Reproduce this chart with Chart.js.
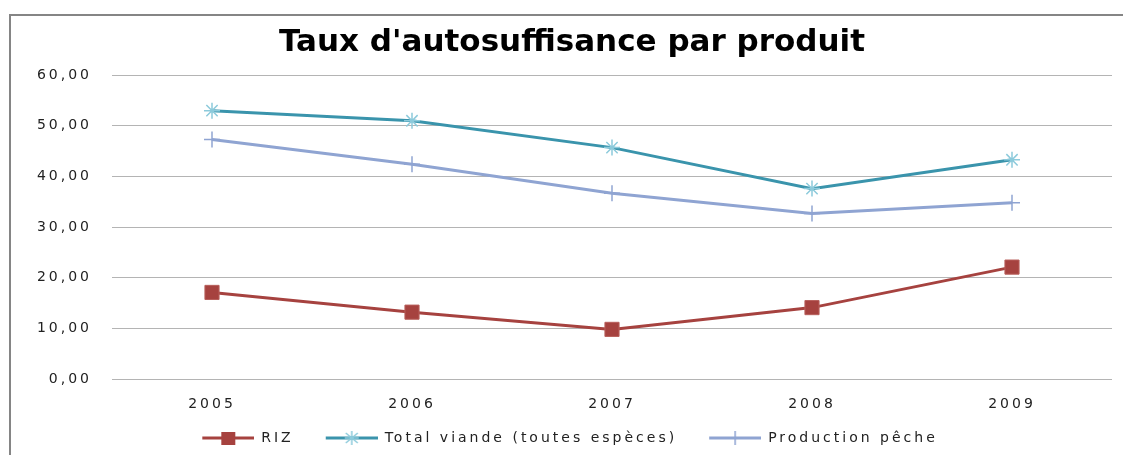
<!DOCTYPE html>
<html>
<head>
<meta charset="utf-8">
<script src="https://cdn.jsdelivr.net/npm/chart.js@4"></script>
<style>
  html, body { margin: 0; padding: 0; background: #fff; }
  #wrap { width: 1123px; height: 455px; position: relative; }
</style>
</head>
<body>
<div id="wrap"><canvas id="autoChart"></canvas></div>
<script>
const years = ['2005', '2006', '2007', '2008', '2009'];
const riz = [17.1, 13.2, 9.8, 14.1, 22.1];
const viande = [53.0, 51.0, 45.7, 37.6, 43.3];
const peche = [47.3, 42.4, 36.7, 32.7, 34.8];
const yTickLabels = ['0,00', '10,00', '20,00', '30,00', '40,00', '50,00', '60,00'];

// legend picture: blank gap on the left, then a line with the marker in its middle
function legendSymbol(lineColor, markColor, style) {
    const c = document.createElement('canvas');
    c.width = 80;
    c.height = 16;
    const g = c.getContext('2d');
    g.strokeStyle = lineColor;
    g.lineWidth = 3;
    g.beginPath();
    g.moveTo(28, 8);
    g.lineTo(80, 8);
    g.stroke();
    const cx = 54;
    if (style === 'rect') {
        g.fillStyle = markColor;
        g.fillRect(cx - 7, 2, 14, 13);
    } else {
        g.strokeStyle = markColor;
        g.lineWidth = 1.5;
        g.beginPath();
        g.moveTo(cx, 1); g.lineTo(cx, 15);
        g.moveTo(cx - 7, 8); g.lineTo(cx + 7, 8);
        if (style === 'star') {
            g.moveTo(cx - 6, 3); g.lineTo(cx + 6, 13);
            g.moveTo(cx - 6, 13); g.lineTo(cx + 6, 3);
        }
        g.stroke();
    }
    return c;
}

const frame = {
    id: 'frame',
    beforeLayout(chart) {
        chart.ctx.letterSpacing = '3px';
    },
    beforeDraw(chart) {
        const ctx = chart.ctx;
        ctx.letterSpacing = '3px';
        ctx.save();
        ctx.strokeStyle = '#858585';
        ctx.lineWidth = 2;
        ctx.strokeRect(10, 15, 1200, 500);
        ctx.restore();
    },
    afterInit(chart) {
        const tb = chart.titleBlock;
        if (!tb) return;
        const orig = tb.draw.bind(tb);
        tb.draw = function(area) {
            const c = chart.ctx;
            const prev = c.letterSpacing;
            c.letterSpacing = '0px';
            c.save();
            c.translate(16, 0);
            orig(area);
            c.restore();
            c.letterSpacing = prev;
        };
    }
};

const symbols = [
    legendSymbol('#A6423F', '#A6423F', 'rect'),
    legendSymbol('#3A94AC', '#8CCADB', 'star'),
    legendSymbol('#8FA4D2', '#8FA4D2', 'cross')
];

const ctx = document.getElementById('autoChart').getContext('2d');
new Chart(ctx, {
    type: 'line',
    data: {
        labels: years,
        datasets: [{
            label: 'RIZ',
            data: riz,
            borderColor: '#A6423F',
            backgroundColor: '#A6423F',
            borderWidth: 3,
            pointStyle: 'rect',
            pointRadius: 10,
            pointBorderWidth: 1,
            pointBorderColor: '#B8605C',
            tension: 0
        }, {
            label: 'Total viande (toutes espèces)',
            data: viande,
            borderColor: '#3A94AC',
            backgroundColor: '#3A94AC',
            borderWidth: 3,
            pointStyle: 'star',
            pointRadius: 8,
            pointBorderWidth: 1.5,
            pointBorderColor: '#8CCADB',
            tension: 0
        }, {
            label: 'Production pêche',
            data: peche,
            borderColor: '#8FA4D2',
            backgroundColor: '#8FA4D2',
            borderWidth: 3,
            pointStyle: 'cross',
            pointRadius: 8,
            pointBorderWidth: 1.5,
            pointBorderColor: '#8FA4D2',
            tension: 0
        }]
    },
    options: {
        responsive: true,
        maintainAspectRatio: false,
        animation: false,
        layout: {
            padding: {left: 0, right: 11, top: 0, bottom: 0}
        },
        plugins: {
            title: {
                display: true,
                text: "Taux d'autosuffisance par produit",
                color: '#000',
                font: {family: 'DejaVu Sans', size: 31, weight: 'bold'},
                padding: {top: 24, bottom: 14}
            },
            legend: {
                position: 'bottom',
                labels: {
                    usePointStyle: true,
                    pointStyleWidth: 80,
                    padding: 4,
                    color: '#222',
                    font: {family: 'DejaVu Sans', size: 14},
                    generateLabels(chart) {
                        const items = Chart.defaults.plugins.legend.labels.generateLabels(chart);
                        items.forEach(function(it, i) { it.pointStyle = symbols[i]; });
                        return items;
                    }
                }
            },
            tooltip: {enabled: false}
        },
        scales: {
            x: {
                offset: true,
                grid: {display: false},
                border: {display: false},
                ticks: {
                    color: '#222',
                    padding: 9,
                    font: {family: 'DejaVu Sans', size: 14}
                },
                afterFit(scale) { scale.height = 48; }
            },
            y: {
                min: 0,
                max: 60,
                grid: {color: '#B4B4B4', lineWidth: 1, drawTicks: false},
                border: {display: false},
                ticks: {
                    stepSize: 10,
                    color: '#222',
                    padding: 20,
                    font: {family: 'DejaVu Sans', size: 14},
                    callback: function(value, index) { return yTickLabels[index]; }
                },
                afterFit(scale) { scale.width = 112; }
            }
        }
    },
    plugins: [frame]
});
</script>
</body>
</html>
